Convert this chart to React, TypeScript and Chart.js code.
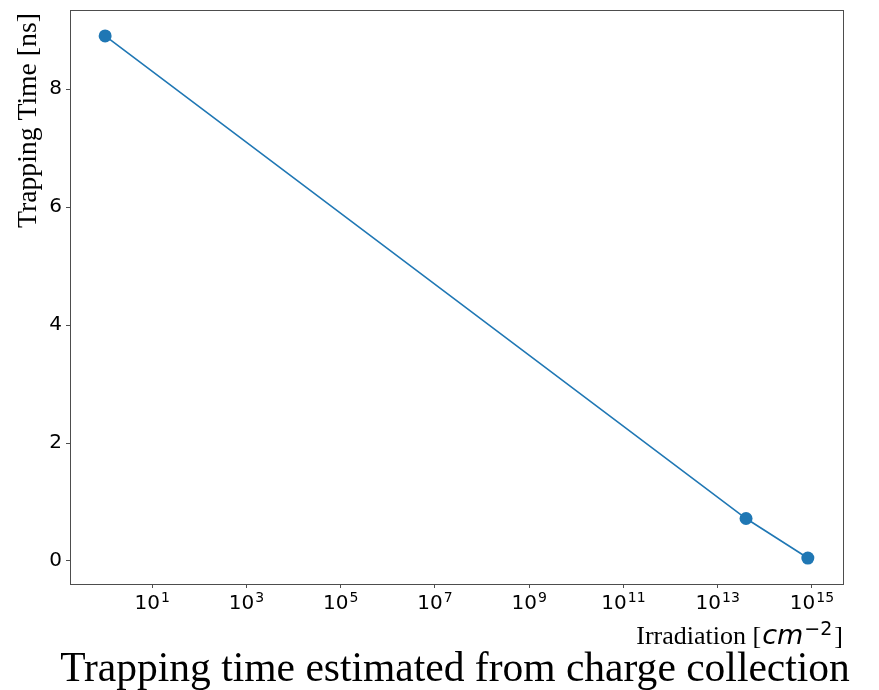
import React, { useEffect, useRef } from "react";
import { Chart, registerables } from "chart.js";

Chart.register(...registerables);

// ---- data ----
const irradiation = [1, 4e13, 8.2e14];
const trappingTime = [8.9, 0.72, 0.05];
const xTickExponents = [1, 3, 5, 7, 9, 11, 13, 15];
const yTickValues = [0, 2, 4, 6, 8];
const chartTitle = "Trapping time estimated from charge collection";
const yAxisTitle = "Trapping Time [ns]";
const xAxisTitleMain = "Irradiation [";
const xAxisTitleUnit = "cm";
const xAxisTitleExp = "\u22122";
const xAxisTitleEnd = "]";

const X_MIN = Math.pow(10, -0.746);
const X_MAX = Math.pow(10, 15.66);
const Y_MIN = -0.39;
const Y_MAX = 9.34;

const SERIF = "'Liberation Serif', 'Times New Roman', serif";
const SANS = "'DejaVu Sans', sans-serif";
const AXIS_COLOR = "#4d4d4d";

const zeroPad = (s: any) => {
  s.paddingTop = 0;
  s.paddingBottom = 0;
  s.paddingLeft = 0;
  s.paddingRight = 0;
};

const decorPlugin = {
  id: "decor",
  afterDraw(chart: any) {
    const ctx: CanvasRenderingContext2D = chart.ctx;
    const area = chart.chartArea;
    const xs = chart.scales.x;
    ctx.save();

    // box around plot
    ctx.strokeStyle = AXIS_COLOR;
    ctx.lineWidth = 1;
    ctx.strokeRect(
      Math.round(area.left) + 0.5,
      Math.round(area.top) + 0.5,
      Math.round(area.right - area.left),
      Math.round(area.bottom - area.top)
    );

    // x tick labels with superscripts
    ctx.fillStyle = "#000";
    ctx.textBaseline = "alphabetic";
    ctx.textAlign = "left";
    const baseY = area.bottom + 25;
    for (const e of xTickExponents) {
      const px = xs.getPixelForValue(Math.pow(10, e));
      ctx.font = `20px ${SANS}`;
      const wBase = ctx.measureText("10").width;
      ctx.font = `14px ${SANS}`;
      const expStr = String(e);
      const wExp = ctx.measureText(expStr).width;
      const start = px - (wBase + wExp + 1) / 2;
      ctx.font = `20px ${SANS}`;
      ctx.fillText("10", start, baseY);
      ctx.font = `14px ${SANS}`;
      ctx.fillText(expStr, start + wBase + 1, baseY - 7);
    }

    // x axis title (right aligned to plot right)
    const xtBase = area.bottom + 60;
    const f1 = `26px ${SERIF}`;
    const f2 = `italic 27px ${SANS}`;
    const f3 = `19px ${SANS}`;
    ctx.font = f1;
    const w1 = ctx.measureText(xAxisTitleMain).width;
    const w4 = ctx.measureText(xAxisTitleEnd).width;
    ctx.font = f2;
    const w2 = ctx.measureText(xAxisTitleUnit).width;
    ctx.font = f3;
    const w3 = ctx.measureText(xAxisTitleExp).width;
    let cx = area.right - (w1 + w2 + w3 + w4 + 4);
    ctx.font = f1;
    ctx.fillText(xAxisTitleMain, cx, xtBase);
    cx += w1 + 1;
    ctx.font = f2;
    ctx.fillText(xAxisTitleUnit, cx, xtBase);
    cx += w2 + 1;
    ctx.font = f3;
    ctx.fillText(xAxisTitleExp, cx, xtBase - 9);
    cx += w3 + 2;
    ctx.font = f1;
    ctx.fillText(xAxisTitleEnd, cx, xtBase);

    // y axis title rotated
    ctx.font = `40px ${SERIF}`;
    const yw40 = ctx.measureText(yAxisTitle).width;
    const ySize = (40 * 215) / yw40;
    ctx.save();
    ctx.translate(36, area.top + 218);
    ctx.rotate(-Math.PI / 2);
    ctx.font = `${ySize.toFixed(2)}px ${SERIF}`;
    ctx.textAlign = "left";
    ctx.fillText(yAxisTitle, 0, 0);
    ctx.restore();

    // main title at bottom
    ctx.font = `40px ${SERIF}`;
    const tw40 = ctx.measureText(chartTitle).width;
    const tSize = (40 * 790) / tw40;
    ctx.font = `${tSize.toFixed(2)}px ${SERIF}`;
    ctx.textAlign = "center";
    ctx.fillText(chartTitle, 455, chart.height - 9);

    ctx.restore();
  },
};

export default function App() {
  const ref = useRef<HTMLCanvasElement | null>(null);

  useEffect(() => {
    if (!ref.current) return;
    const chart = new Chart(ref.current, {
      type: "line",
      data: {
        datasets: [
          {
            data: irradiation.map((x, i) => ({ x, y: trappingTime[i] })),
            borderColor: "#1f77b4",
            backgroundColor: "#1f77b4",
            borderWidth: 1.6,
            pointRadius: 6.5,
            pointBorderWidth: 0,
            pointBackgroundColor: "#1f77b4",
            tension: 0,
            fill: false,
          },
        ],
      },
      options: {
        animation: false,
        responsive: false,
        devicePixelRatio: 1,
        layout: { padding: { top: 10, right: 36, left: 0, bottom: 0 } },
        plugins: {
          legend: { display: false },
          tooltip: { enabled: false },
          title: { display: false },
        },
        scales: {
          x: {
            type: "logarithmic",
            min: X_MIN,
            max: X_MAX,
            afterBuildTicks: (s: any) => {
              s.ticks = xTickExponents.map((e) => ({ value: Math.pow(10, e) }));
            },
            afterFit: (s: any) => {
              s.height = 106;
              zeroPad(s);
            },
            ticks: { autoSkip: false, callback: () => "", maxRotation: 0 },
            grid: {
              drawOnChartArea: false,
              drawTicks: true,
              tickLength: 4,
              color: AXIS_COLOR,
            },
            border: { display: true, color: AXIS_COLOR, width: 1 },
          },
          y: {
            type: "linear",
            min: Y_MIN,
            max: Y_MAX,
            afterBuildTicks: (s: any) => {
              s.ticks = yTickValues.map((v) => ({ value: v }));
            },
            afterFit: (s: any) => {
              s.width = 70;
              zeroPad(s);
            },
            ticks: {
              font: { family: "DejaVu Sans", size: 20 },
              color: "#000",
              padding: 4,
            },
            grid: {
              drawOnChartArea: false,
              drawTicks: true,
              tickLength: 4,
              color: AXIS_COLOR,
            },
            border: { display: true, color: AXIS_COLOR, width: 1 },
          },
        },
      },
      plugins: [decorPlugin],
    });
    return () => chart.destroy();
  }, []);

  return (
    <div style={{ position: "absolute", left: 0, top: 0, width: 879, height: 690, background: "#fff" }}>
      <canvas ref={ref} width={879} height={690} style={{ display: "block" }} />
    </div>
  );
}
